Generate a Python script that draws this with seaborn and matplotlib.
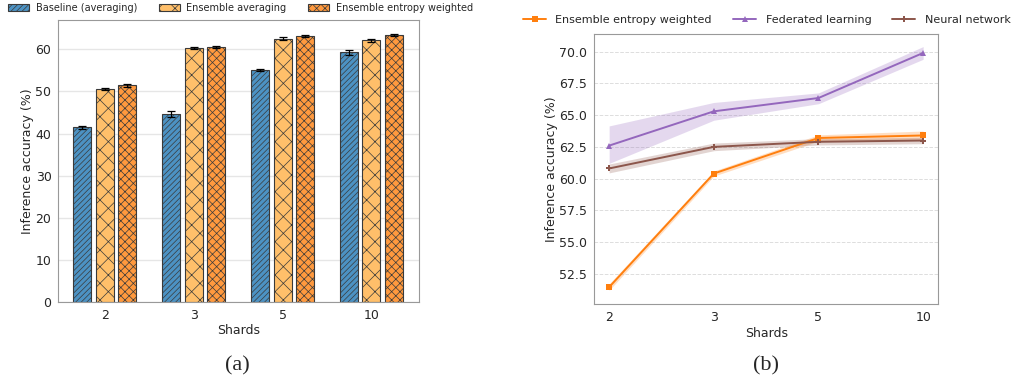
import numpy as np
import pandas as pd
import seaborn as sns
import matplotlib.pyplot as plt

# Data
shards = ["2", "3", "5", "10"]

# (a) bar chart
bar_methods = ["Baseline (averaging)", "Ensemble averaging", "Ensemble entropy weighted"]
baseline_mean = [41.5, 44.6, 55.1, 59.3]
baseline_err = [0.4, 0.8, 0.2, 0.6]
ens_avg_mean = [50.5, 60.2, 62.5, 62.1]
ens_avg_err = [0.2, 0.2, 0.3, 0.4]
ens_ent_mean = [51.4, 60.5, 63.1, 63.4]
ens_ent_err = [0.3, 0.2, 0.3, 0.3]

# (b) line chart with bands
line_methods = ["Ensemble entropy weighted", "Federated learning", "Neural network"]
entropy_line = [51.45, 60.4, 63.2, 63.4]
entropy_lo = [51.2, 60.2, 62.95, 63.05]
entropy_hi = [51.7, 60.6, 63.45, 63.75]
fed_line = [62.6, 65.3, 66.35, 69.9]
fed_lo = [61.2, 64.6, 65.9, 69.4]
fed_hi = [64.15, 66.0, 66.75, 70.4]
nn_line = [60.8, 62.5, 62.9, 63.0]
nn_lo = [60.45, 62.2, 62.65, 62.75]
nn_hi = [61.15, 62.8, 63.15, 63.25]

sns.set_style("white")
plt.rcParams["font.family"] = ["DejaVu Sans"]
plt.rcParams["hatch.linewidth"] = 0.5

fig = plt.figure(figsize=(10.11, 3.83), dpi=100)
ax1 = fig.add_axes([0.0571, 0.2107, 0.3577, 0.737])
ax2 = fig.add_axes([0.5875, 0.2055, 0.3406, 0.705])

# ---- (a) grouped bars
df_bar = pd.DataFrame({
    "shards": shards * 3,
    "method": np.repeat(bar_methods, len(shards)),
    "acc": baseline_mean + ens_avg_mean + ens_ent_mean,
})
errs = [baseline_err, ens_avg_err, ens_ent_err]
means = [baseline_mean, ens_avg_mean, ens_ent_mean]

def blend(c, a):
    return tuple(a * x + (1 - a) for x in c)

tab = sns.color_palette("tab10")
bar_colors = [blend(tab[0], 0.8), "#ffbf6a", blend(tab[1], 0.8)]
hatches = ["//////", "xx", "xxxx"]

ax1.grid(axis="y", color="#e6e6e6", linewidth=1)
ax1.set_axisbelow(True)
sns.barplot(data=df_bar, x="shards", y="acc", hue="method", order=shards,
            hue_order=bar_methods, palette=bar_colors, width=0.76, gap=0.2,
            saturation=1, errorbar=None, edgecolor="#3a3a3a", linewidth=0.8,
            ax=ax1)

bar_conts = list(ax1.containers)
for i, cont in enumerate(bar_conts):
    for j, patch in enumerate(cont.patches):
        patch.set_hatch(hatches[i])
        cx = patch.get_x() + patch.get_width() / 2
        ax1.errorbar(cx, means[i][j], yerr=errs[i][j], color="black",
                     capsize=3, elinewidth=0.9, capthick=0.9, zorder=5)

ax1.set_ylim(0, 66.9)
ax1.set_xlim(-0.53, 3.54)
ax1.set_xlabel("Shards", fontsize=9, labelpad=2)
ax1.set_ylabel("Inference accuracy (%)", fontsize=9, labelpad=1)
ax1.tick_params(labelsize=9, length=0, pad=4.5)
for s in ax1.spines.values():
    s.set_color("#999999")

h, l = ax1.get_legend_handles_labels()
for hh, ht in zip(h, hatches):
    hh.set_hatch(ht)
ax1.get_legend().remove()
fig.legend(h, l, loc="center left", bbox_to_anchor=(8 / 1011, 1 - 8 / 383),
           ncol=3, frameon=False, fontsize=7, handlelength=2.16,
           handleheight=0.7, columnspacing=2.2, handletextpad=0.7,
           borderpad=0, borderaxespad=0)

# ---- (b) lines with bands
df_line = pd.DataFrame({
    "shards": shards * 3,
    "method": np.repeat(line_methods, len(shards)),
    "acc": entropy_line + fed_line + nn_line,
})
line_colors = [tab[1], tab[4], tab[5]]
markers = ["s", "^", "P"]

ax2.grid(axis="y", color="#dddddd", linestyle="--", linewidth=0.7)
ax2.set_axisbelow(True)
sns.lineplot(data=df_line, x="shards", y="acc", hue="method", style="method",
             hue_order=line_methods, style_order=line_methods,
             palette=line_colors, markers=markers, dashes=False,
             markersize=4.5, markeredgewidth=0, linewidth=1.4, ax=ax2)

xs = np.arange(len(shards))
for lo, hi, c in [(entropy_lo, entropy_hi, tab[1]), (fed_lo, fed_hi, tab[4]),
                  (nn_lo, nn_hi, tab[5])]:
    ax2.fill_between(xs, lo, hi, color=c, alpha=0.25, linewidth=0)

ax2.set_xlim(-0.145, 3.145)
ax2.set_ylim(50.1, 71.37)
ax2.set_yticks([52.5, 55.0, 57.5, 60.0, 62.5, 65.0, 67.5, 70.0])
ax2.set_xlabel("Shards", fontsize=9, labelpad=2)
ax2.set_ylabel("Inference accuracy (%)", fontsize=9, labelpad=1)
ax2.tick_params(labelsize=9, length=0, pad=5)
for s in ax2.spines.values():
    s.set_color("#999999")

h, l = ax2.get_legend_handles_labels()
ax2.get_legend().remove()
fig.legend(h, l, loc="center left", bbox_to_anchor=(523 / 1011, 1 - 20 / 383),
           ncol=3, frameon=False, fontsize=8, handlelength=2.07,
           columnspacing=1.9, handletextpad=0.85, borderpad=0,
           borderaxespad=0)

fig.text(237 / 1011, 1 - 366 / 383, "(a)", ha="center", va="center",
         fontsize=16, family="Liberation Serif")
fig.text(766 / 1011, 1 - 366 / 383, "(b)", ha="center", va="center",
         fontsize=16, family="Liberation Serif")

fig.savefig("out.png", dpi=100)
